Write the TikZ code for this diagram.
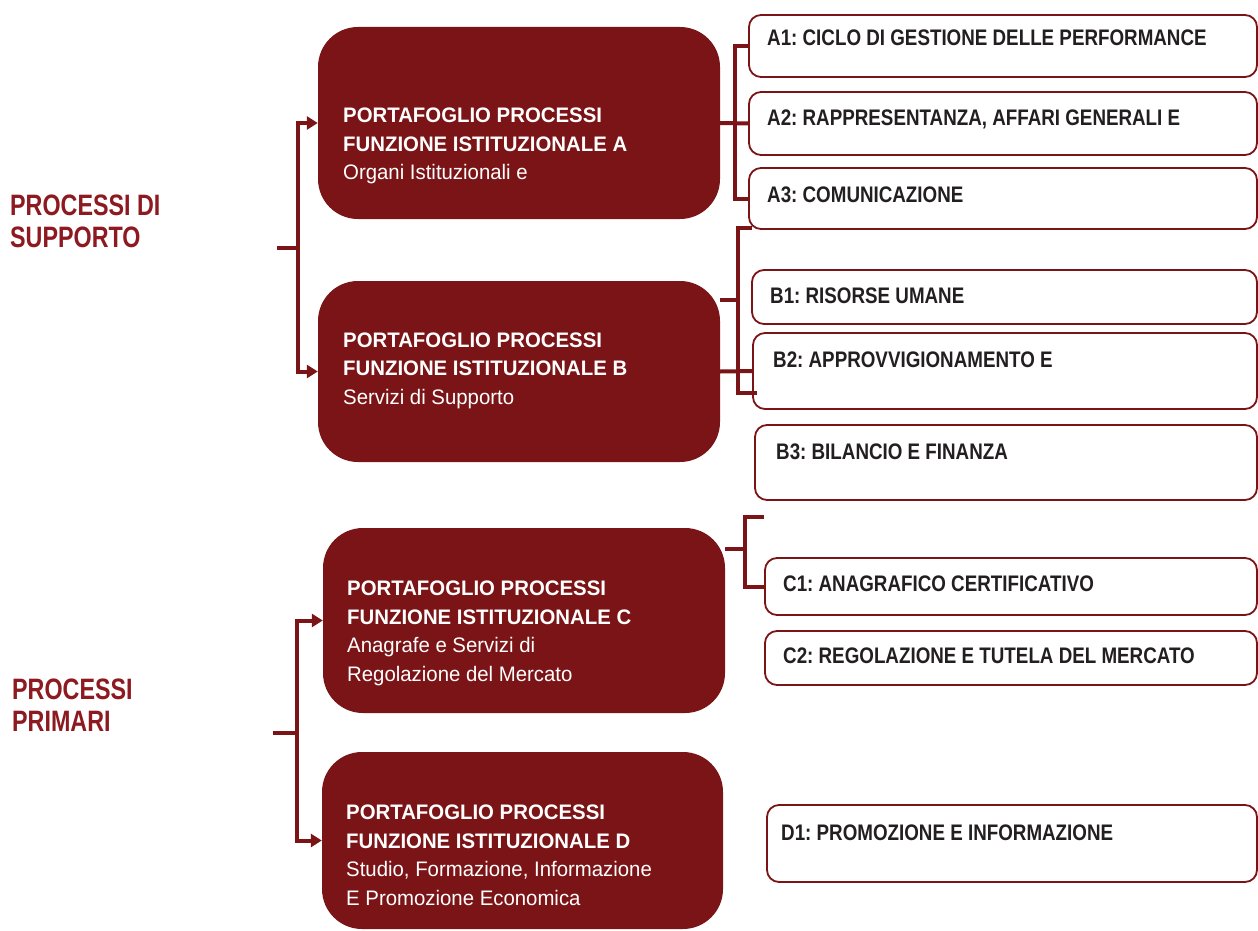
\documentclass[tikz,border=0pt]{standalone}
\usepackage{fontspec}
\setmainfont{Liberation Sans}
\newfontfamily\boxfont[FakeStretch=0.97]{Liberation Sans}
\newfontfamily\itemfont[FakeStretch=0.835]{Liberation Sans}
\newfontfamily\labfont[FakeStretch=0.79]{Liberation Sans}
\usetikzlibrary{arrows.meta}
\definecolor{dred}{RGB}{123,20,22}
\definecolor{lred}{RGB}{140,26,32}
\definecolor{itemtext}{RGB}{35,31,32}
\frenchspacing
\begin{document}
\begin{tikzpicture}[x=1pt,y=-1pt,
  darkbox/.style={fill=dred, draw=none, rounded corners=40pt, inner sep=0pt, minimum width=402pt},
  itembox/.style={draw=dred, line width=1.8pt, fill=white, rounded corners=12pt, inner sep=0pt},
  darktext/.style={text=white, inner sep=0pt, anchor=base west, font=\boxfont\fontsize{21}{28.5}\selectfont},
  itemtext/.style={text=itemtext, inner sep=0pt, anchor=base west, font=\itemfont\bfseries\fontsize{22.5}{27}\selectfont},
  labtext/.style={text=lred, inner sep=0pt, anchor=base west, align=left, font=\labfont\bfseries\fontsize{29.5}{32}\selectfont},
  br/.style={draw=dred, line width=4pt},
  arr/.style={draw=dred, line width=4pt, -{Triangle[length=11pt,width=13pt]}}
]
\clip (0,0) rectangle (1258,931);
\fill[white] (0,0) rectangle (1258,931);

% dark portfolio boxes
\node[darkbox, minimum height=192pt] (A) at (519,123) {};
\node[darkbox, minimum height=181pt] (B) at (519,371.5) {};
\node[darkbox, minimum height=185pt] (C) at (524,620.5) {};
\node[darkbox, minimum height=177pt, minimum width=401pt] (D) at (522.5,840.5) {};

\node[darktext] (At1) at (343,123) {\bfseries PORTAFOGLIO PROCESSI};
\node[darktext] (At2) at (343,151) {\bfseries FUNZIONE ISTITUZIONALE A};
\node[darktext] (At3) at (343,179) {Organi Istituzionali e};

\node[darktext] (Bt1) at (343,347) {\bfseries PORTAFOGLIO PROCESSI};
\node[darktext] (Bt2) at (343,375) {\bfseries FUNZIONE ISTITUZIONALE B};
\node[darktext] (Bt3) at (343,404) {Servizi di Supporto};

\node[darktext] (Ct1) at (347,595) {\bfseries PORTAFOGLIO PROCESSI};
\node[darktext] (Ct2) at (347,624) {\bfseries FUNZIONE ISTITUZIONALE C};
\node[darktext] (Ct3) at (347,652) {Anagrafe e Servizi di};
\node[darktext] (Ct4) at (347,681) {Regolazione del Mercato};

\node[darktext] (Dt1) at (346,819) {\bfseries PORTAFOGLIO PROCESSI};
\node[darktext] (Dt2) at (346,848) {\bfseries FUNZIONE ISTITUZIONALE D};
\node[darktext] (Dt3) at (346,876) {Studio, Formazione, Informazione};
\node[darktext] (Dt4) at (346,905) {E Promozione Economica};

% item boxes
\node[itembox, minimum width=508pt, minimum height=62pt] (A1) at (1003,46) {};
\node[itembox, minimum width=508pt, minimum height=63pt] (A2) at (1003,123.5) {};
\node[itembox, minimum width=508pt, minimum height=61pt] (A3) at (1003,198.5) {};
\node[itembox, minimum width=505pt, minimum height=54pt] (B1) at (1004.5,297) {};
\node[itembox, minimum width=504pt, minimum height=76pt] (B2) at (1005,371) {};
\node[itembox, minimum width=502pt, minimum height=75pt] (B3) at (1006,462.5) {};
\node[itembox, minimum width=492pt, minimum height=57pt] (C1) at (1011,586.5) {};
\node[itembox, minimum width=492pt, minimum height=54pt] (C2) at (1011,658) {};
\node[itembox, minimum width=490pt, minimum height=77pt] (D1) at (1012,843.5) {};

\node[itemtext] (A1t) at (767,46) {A1: CICLO DI GESTIONE DELLE PERFORMANCE};
\node[itemtext] (A2t) at (767,125) {A2: RAPPRESENTANZA, AFFARI GENERALI E};
\node[itemtext] (A3t) at (767,202) {A3: COMUNICAZIONE};
\node[itemtext] (B1t) at (770,303) {B1: RISORSE UMANE};
\node[itemtext] (B2t) at (773,367) {B2: APPROVVIGIONAMENTO E};
\node[itemtext] (B3t) at (776,459) {B3: BILANCIO E FINANZA};
\node[itemtext] (C1t) at (783,591) {C1: ANAGRAFICO CERTIFICATIVO};
\node[itemtext] (C2t) at (783,663) {C2: REGOLAZIONE E TUTELA DEL MERCATO};
\node[itemtext] (D1t) at (781,840) {D1: PROMOZIONE E INFORMAZIONE};

% side labels
\node[labtext] (L1) at (10,247) {PROCESSI DI\\SUPPORTO};
\node[labtext] (L2) at (12,731) {PROCESSI\\PRIMARI};

% left brackets
\coordinate (s1) at (277,248);
\coordinate (j1) at (298,248);
\draw[br] (s1) -- (j1);
\draw[arr] (j1) |- (A.west);
\draw[arr] (j1) |- (B.west);

\coordinate (s2) at (273,733);
\coordinate (j2) at (297,733);
\draw[br] (s2) -- (j2);
\draw[arr] (j2) |- (C.west);
\draw[arr] (j2) |- (D.west);

% bracket A
\coordinate (ja) at (735,123);
\draw[br] (A.east) -- (A2.west);
\draw[br] (A1.west) -| (ja) |- (A3.west);

% bracket B
\coordinate (bt) at (752,228);
\coordinate (bb) at (757,393);
\coordinate (jb) at (738,300);
\draw[br] (bt) -| (jb) |- (bb);
\draw[br] (B.east |- jb) -- (jb);
\draw[br] (B.east) -- (B2.west);

% bracket C
\coordinate (ct) at (764,517);
\coordinate (jc) at (745,549);
\draw[br] (ct) -| (jc) |- (C1.west);
\draw[br] (C.east |- jc) -- (jc);
\end{tikzpicture}
\end{document}
